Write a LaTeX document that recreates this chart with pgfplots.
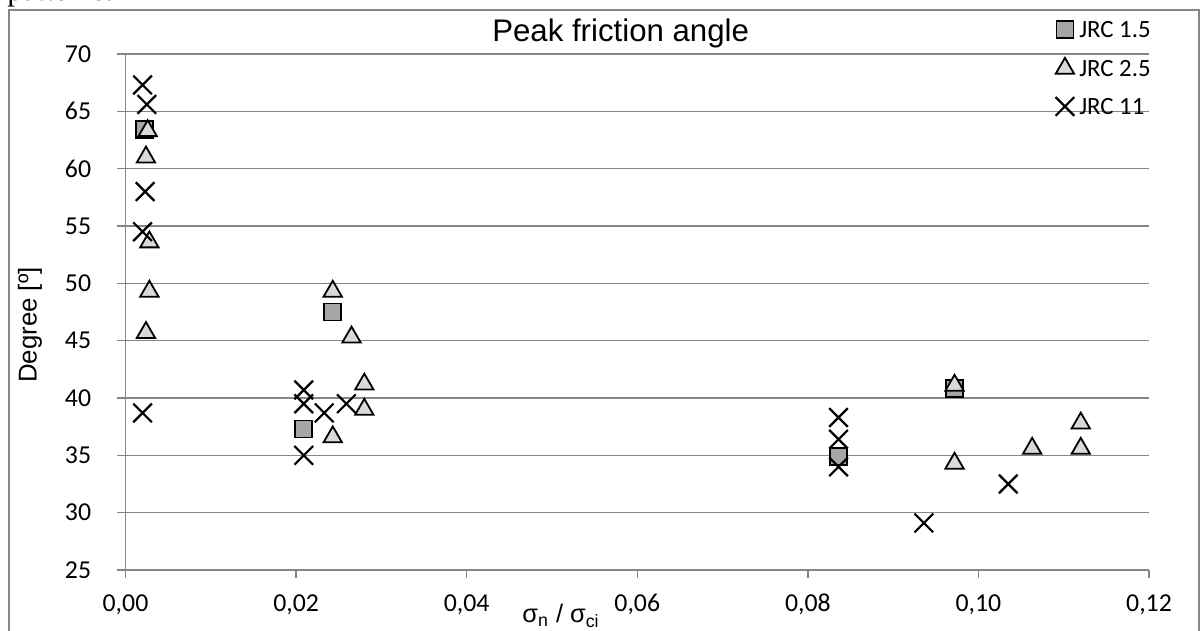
\documentclass[border=0pt]{standalone}
\usepackage{fontspec}
\setmainfont{Liberation Sans}
\newfontfamily\calib{Carlito}
\newfontfamily\timesf{Liberation Serif}
\usepackage{pgfplots}
\pgfplotsset{compat=1.18}
\definecolor{gridgray}{RGB}{134,134,134}
\definecolor{sqfill}{RGB}{166,166,166}
\definecolor{trifill}{RGB}{217,217,217}
\begin{document}
\begin{tikzpicture}
\useasboundingbox (0,0) rectangle (601bp,315.5bp);
% chart frame and the cut-off text line above it
\draw[gridgray, line width=0.7bp] (4.5bp,-5bp) -- (4.5bp,310.5bp) -- (599.5bp,310.5bp) -- (599.5bp,-5bp);
\node[anchor=base west, inner sep=0pt, font=\timesf\fontsize{15.5bp}{18bp}\selectfont] at (3.5bp,315bp) {patterns.};
\begin{axis}[
  at={(62.75bp,30.5bp)}, anchor=south west,
  scale only axis, width=511.75bp, height=258bp,
  xmin=0, xmax=0.12, ymin=25, ymax=70,
  xtick={0,0.02,0.04,0.06,0.08,0.1,0.12},
  ytick={25,30,35,40,45,50,55,60,65,70},
  axis lines*=left,
  axis line style={gridgray, line width=0.7bp},
  ymajorgrids, grid style={gridgray, line width=0.7bp},
  tick align=outside, major tick length=4bp,
  tick style={gridgray, line width=0.7bp},
  /pgf/number format/assume math mode=true,
  ticklabel style={font=\calib\fontsize{12.9bp}{15bp}\selectfont, inner sep=0pt},
  yticklabel style={anchor=east, xshift=-13bp},
  xticklabel style={anchor=base, yshift=-16.8bp},
  x tick label style={/pgf/number format/.cd, fixed, fixed zerofill, precision=2, use comma},
  title={Peak friction angle},
  title style={at={(axis description cs:0.4838,1.0238)}, anchor=base, yshift=-6pt, inner sep=0pt, font=\fontsize{15.6bp}{18bp}\selectfont},
  ylabel={Degree [º]},
  ylabel style={at={(axis description cs:-0.0933,0.4748)}, anchor=center, inner sep=0pt, font=\fontsize{12.9bp}{15bp}\selectfont},
  xlabel={σ\textsubscript{n} / σ\textsubscript{ci}},
  xlabel style={at={(axis description cs:0.4255,-0.1027)}, anchor=base, inner sep=0pt, font=\fontsize{12.7bp}{15bp}\selectfont},
  legend style={at={(axis description cs:1.002,1.067)}, anchor=north east, draw=none, fill=none, inner sep=0pt, row sep=9bp, column sep=2.5bp,
    font=\calib\fontsize{12.4bp}{14bp}\selectfont, nodes={inner sep=0pt, text height=9bp, text depth=1bp}},
  legend cell align=left,
  legend image code/.code={\draw[#1] plot coordinates {(0bp,0bp)};},
  clip=false,
]
\addplot[only marks, mark=square*, mark size=4.25bp, mark options={fill=sqfill, draw=black, line width=0.9bp}]
  coordinates {(0.0022,63.4) (0.0243,47.5) (0.0209,37.3) (0.0836,34.9) (0.0972,40.8)};
\addlegendentry{JRC 1.5}
\addplot[only marks, mark=triangle*, mark size=5.3bp, mark options={fill=trifill, draw=black, line width=0.9bp}]
  coordinates {(0.0026,63.3) (0.0024,61.0) (0.0028,53.6) (0.0028,49.3) (0.0024,45.7)
    (0.0243,49.3) (0.0265,45.3) (0.0280,41.2) (0.0280,39.0) (0.0243,36.6)
    (0.0972,41.1) (0.0972,34.3) (0.1063,35.6) (0.1120,37.8) (0.1120,35.6)};
\addlegendentry{JRC 2.5}
\addplot[only marks, mark=x, mark size=6.6bp, mark options={draw=black, line width=1.1bp}]
  coordinates {(0.0020,67.3) (0.0025,65.6) (0.0023,58.0) (0.0020,54.5) (0.0020,38.7)
    (0.0209,40.7) (0.0209,39.5) (0.0233,38.7) (0.0259,39.5) (0.0209,35.0)
    (0.0836,38.3) (0.0836,36.4) (0.0836,34.0) (0.0936,29.1) (0.1035,32.5)};
\addlegendentry{JRC 11}
\end{axis}
\end{tikzpicture}
\end{document}
